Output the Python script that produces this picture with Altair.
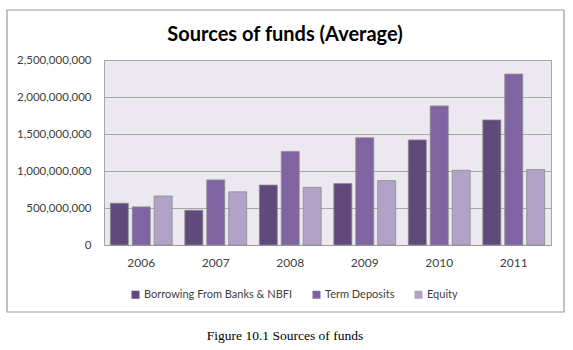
import altair as alt
import pandas as pd

years = ["2006", "2007", "2008", "2009", "2010", "2011"]
series = ["Borrowing From Banks & NBFI", "Term Deposits", "Equity"]
borrowing = [565e6, 470e6, 810e6, 830e6, 1420e6, 1690e6]
term_deposits = [515e6, 880e6, 1265e6, 1450e6, 1880e6, 2310e6]
equity = [662e6, 718e6, 780e6, 870e6, 1010e6, 1020e6]
colors = ["#604a7b", "#8064a2", "#b3a2c7"]

rows = []
for i, y in enumerate(years):
    for s, vals in zip(series, [borrowing, term_deposits, equity]):
        rows.append({"Year": y, "Series": s, "Value": vals[i]})
df = pd.DataFrame(rows)

FONT = "Lato"
W, H = 447, 185

bars = alt.Chart(df).mark_bar(stroke="#8c8c8c", strokeWidth=0.8).encode(
    x=alt.X("Year:N", sort=years, title=None,
            scale=alt.Scale(paddingInner=0.17, paddingOuter=0.085),
            axis=alt.Axis(labelAngle=0, labelFont=FONT, labelFontSize=12,
                          labelColor="#404040", labelPadding=12, ticks=False,
                          domainColor="#9a9a9a", grid=False)),
    xOffset=alt.XOffset("Series:N", sort=series,
                        scale=alt.Scale(paddingInner=0.18)),
    y=alt.Y("Value:Q", title=None,
            scale=alt.Scale(domain=[0, 2.5e9]),
            axis=alt.Axis(values=[0, 5e8, 1e9, 1.5e9, 2e9, 2.5e9], format=",.0f",
                          labelFont=FONT, labelFontSize=11.5, labelColor="#404040",
                          labelPadding=13, ticks=False, domain=False,
                          gridColor="#a6a6a6", gridWidth=1)),
    color=alt.Color("Series:N", sort=series,
                    scale=alt.Scale(domain=series, range=colors),
                    legend=alt.Legend(title=None, orient="none", legendX=26, legendY=229,
                                      direction="horizontal", columns=3,
                                      symbolType="square", symbolSize=64,
                                      symbolStrokeWidth=0, columnPadding=18,
                                      labelLimit=0,
                                      labelFont=FONT, labelFontSize=11,
                                      labelColor="#404040", labelOffset=3)),
)

deco = pd.DataFrame({"t": ["Sources of funds (Average)"], "c": ["Figure 10.1 Sources of funds"]})

frame = alt.Chart(deco).mark_rect(fill=None, stroke="#9a9a9a", strokeWidth=1.2).encode(
    x=alt.value(-97), x2=alt.value(460), y=alt.value(-50), y2=alt.value(252)
)

title = alt.Chart(deco).mark_text(font=FONT, fontSize=20, fontWeight="bold",
                                  color="#000000", baseline="alphabetic").encode(
    x=alt.value(181), y=alt.value(-19), text="t:N"
)

caption = alt.Chart(deco).mark_text(font="Liberation Serif", fontSize=13.5,
                                    color="#000000", baseline="middle").encode(
    x=alt.value(181), y=alt.value(276), text="c:N"
)

chart = alt.layer(frame, bars, title, caption).properties(
    width=W, height=H,
    autosize=alt.AutoSizeParams(type="none"),
    padding={"left": 104, "top": 60, "right": 22, "bottom": 105},
    background="white",
).configure_view(fill="#ebe9ef", stroke="#a6a6a6", strokeWidth=1)

chart.save("out.html", embed_options={"renderer": "svg", "actions": False})
